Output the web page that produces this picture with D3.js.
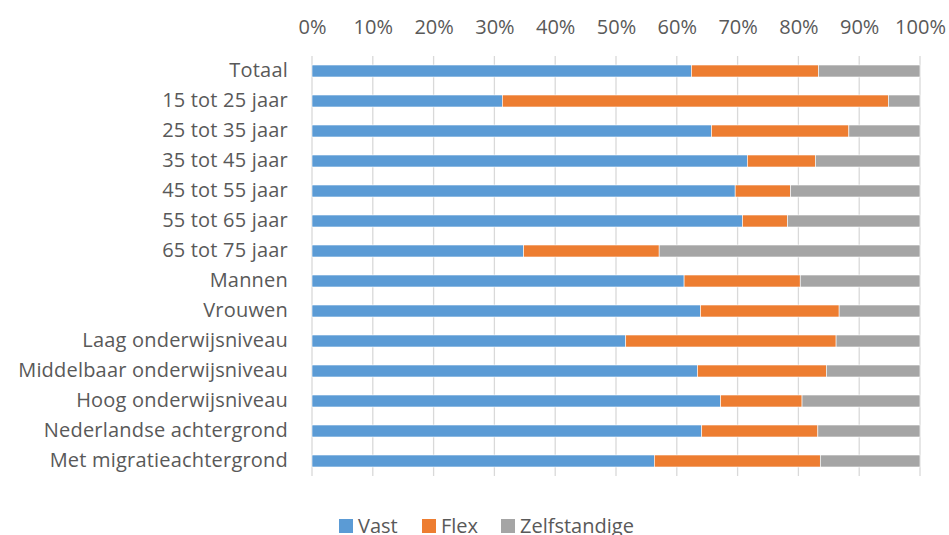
<!DOCTYPE html>
<html>
<head>
<meta charset="utf-8">
<script src="https://cdn.jsdelivr.net/npm/d3@7"></script>
<style>
  body { margin: 0; background: #fff; }
  text { font-family: "Open Sans", sans-serif; fill: #595959; }
</style>
</head>
<body>
<svg id="chart" width="949" height="535"></svg>
<script>
var categories = ["Totaal", "15 tot 25 jaar", "25 tot 35 jaar", "35 tot 45 jaar", "45 tot 55 jaar",
  "55 tot 65 jaar", "65 tot 75 jaar", "Mannen", "Vrouwen", "Laag onderwijsniveau",
  "Middelbaar onderwijsniveau", "Hoog onderwijsniveau", "Nederlandse achtergrond", "Met migratieachtergrond"];
var vast = [62.4, 31.3, 65.7, 71.6, 69.6, 70.8, 34.8, 61.2, 63.9, 51.6, 63.4, 67.2, 64.1, 56.3];
var flex = [20.9, 63.5, 22.6, 11.2, 9.1, 7.4, 22.3, 19.1, 22.8, 34.6, 21.2, 13.4, 19.1, 27.3];
var zelfstandige = [16.7, 5.2, 11.7, 17.2, 21.3, 21.8, 42.9, 19.7, 13.3, 13.8, 15.4, 19.4, 16.8, 16.4];
var seriesNames = ["Vast", "Flex", "Zelfstandige"];
var colors = ["#5B9BD5", "#ED7D31", "#A5A5A5"];
var tickValues = [0, 0.1, 0.2, 0.3, 0.4, 0.5, 0.6, 0.7, 0.8, 0.9, 1];

var rows = categories.map(function(c, i) {
	var tot = vast[i] + flex[i] + zelfstandige[i];
	return {cat: c, Vast: vast[i] / tot, Flex: flex[i] / tot, Zelfstandige: zelfstandige[i] / tot};
});

var svg = d3.select("#chart");
var plotLeft = 312, plotRight = 920, plotTop = 56, plotBottom = 476;
var fontSize = "20px";

var x = d3.scaleLinear().domain([0, 1]).range([plotLeft, plotRight]);
var y = d3.scaleBand().domain(categories).range([plotTop, plotBottom]).paddingInner(0.6).paddingOuter(0.3);

// gridlines
svg.append("g").selectAll("line")
    .data(tickValues)
    .enter().append("line")
    .attr("x1", function(d) { return x(d); })
    .attr("x2", function(d) { return x(d); })
    .attr("y1", plotTop)
    .attr("y2", plotBottom)
    .attr("stroke", "#D9D9D9")
    .attr("stroke-width", 1.3);

// top axis labels
var xAxis = d3.axisTop(x).tickValues(tickValues).tickFormat(d3.format(".0%")).tickSize(0).tickPadding(0);
var gx = svg.append("g").attr("transform", "translate(0,34)").call(xAxis);
gx.select(".domain").remove();
gx.selectAll("text").style("font-size", fontSize).attr("fill", "#595959").attr("font-family", "Open Sans");

// category labels
var yAxis = d3.axisLeft(y).tickSize(0).tickPadding(0);
var gy = svg.append("g").attr("transform", "translate(288,0)").call(yAxis);
gy.select(".domain").remove();
gy.selectAll("text").style("font-size", fontSize).style("letter-spacing", "0.2px")
    .attr("fill", "#595959").attr("font-family", "Open Sans");

// stacked bars
var stack = d3.stack().keys(seriesNames);
var layers = stack(rows);

svg.append("g").selectAll("g")
    .data(layers)
    .enter().append("g")
    .attr("fill", function(d, i) { return colors[i]; })
    .selectAll("rect")
    .data(function(d) { return d; })
    .enter().append("rect")
    .attr("x", function(d) { return x(d[0]); })
    .attr("width", function(d) { return x(d[1]) - x(d[0]); })
    .attr("y", function(d) { return y(d.data.cat); })
    .attr("height", y.bandwidth())
    .attr("stroke", "#fff")
    .attr("stroke-width", 0.6);

// legend
var legendX = [339, 422, 501];
var legend = svg.append("g").selectAll("g")
    .data(seriesNames)
    .enter().append("g")
    .attr("transform", function(d, i) { return "translate(" + legendX[i] + ",519)"; });
legend.append("rect")
    .attr("width", 14)
    .attr("height", 14)
    .attr("fill", function(d, i) { return colors[i]; });
legend.append("text")
    .attr("x", 19)
    .attr("y", 14)
    .style("font-size", fontSize)
    .text(function(d) { return d; });
</script>
</body>
</html>
